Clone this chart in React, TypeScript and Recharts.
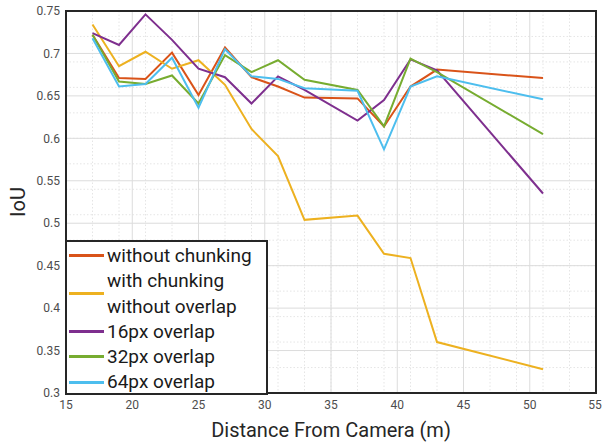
import React from 'react';
import { LineChart, Line, XAxis, YAxis, CartesianGrid, Legend } from 'recharts';

const distances = [17, 19, 21, 23, 25, 27, 29, 31, 33, 37, 39, 41, 43, 51];
const withoutChunking = [0.722, 0.671, 0.670, 0.701, 0.651, 0.707, 0.672, 0.661, 0.648, 0.647, 0.614, 0.661, 0.681, 0.671];
const chunkNoOverlap = [0.734, 0.685, 0.702, 0.682, 0.692, 0.663, 0.611, 0.579, 0.504, 0.509, 0.464, 0.459, 0.360, 0.328];
const overlap16 = [0.724, 0.710, 0.746, 0.716, 0.682, 0.672, 0.641, 0.673, 0.657, 0.621, 0.645, 0.693, 0.680, 0.535];
const overlap32 = [0.722, 0.667, 0.664, 0.674, 0.641, 0.698, 0.678, 0.692, 0.669, 0.657, 0.614, 0.694, 0.678, 0.605];
const overlap64 = [0.718, 0.661, 0.664, 0.695, 0.636, 0.705, 0.673, 0.670, 0.659, 0.656, 0.587, 0.661, 0.673, 0.646];

const xTicks = [15, 20, 25, 30, 35, 40, 45, 50, 55];
const yTicks = [0.3, 0.35, 0.4, 0.45, 0.5, 0.55, 0.6, 0.65, 0.7, 0.75];
const xDomain = [15, 55];
const yDomain = [0.3, 0.75];

const seriesDefs = [
  { key: 's1', label: ['without chunking'], color: '#D95319', values: withoutChunking },
  { key: 's2', label: ['with chunking', 'without overlap'], color: '#EDB120', values: chunkNoOverlap },
  { key: 's3', label: ['16px overlap'], color: '#7E2F8E', values: overlap16 },
  { key: 's4', label: ['32px overlap'], color: '#77AC30', values: overlap32 },
  { key: 's5', label: ['64px overlap'], color: '#4DBEEE', values: overlap64 },
];

const data = distances.map((dist, i) => {
  const row: any = { dist };
  seriesDefs.forEach((s) => (row[s.key] = s.values[i]));
  return row;
});

const minorX: number[] = [];
for (let v = 15; v <= 55; v += 1) minorX.push(v);
const minorY: number[] = [];
for (let i = 30; i <= 75; i += 1) minorY.push(i / 100);

const FONT = 'Roboto, "DejaVu Sans", sans-serif';
const AX = '#262626';
const fmtY = (v: number) => String(Number(Number(v).toFixed(2)));

const BottomTick = (p: any) => (
  <text x={p.x} y={p.y} dy="0.71em" textAnchor="middle" fontSize={12} fontFamily={FONT} fill="#4d4d4d">
    {p.payload.value}
  </text>
);
const LeftTick = (p: any) => (
  <text x={p.x} y={p.y} dy="0.355em" textAnchor="end" fontSize={12} fontFamily={FONT} fill="#4d4d4d">
    {fmtY(p.payload.value)}
  </text>
);

const LegendBox = () => (
  <div
    style={{
      position: 'absolute',
      left: 65,
      top: 240,
      width: 199,
      height: 151,
      border: `2px solid ${AX}`,
      background: '#fff',
      fontFamily: FONT,
      fontSize: 19,
      color: '#1a1a1a',
      boxSizing: 'content-box',
      zIndex: 2,
    }}
  >
    <div style={{ height: 1 }} />
    {seriesDefs.map((s) => (
      <div key={s.key} style={{ position: 'relative', height: 25.3 * s.label.length, lineHeight: '25.3px' }}>
        <div
          style={{
            position: 'absolute',
            left: 2,
            top: (25.3 * s.label.length) / 2 - 1.5,
            width: 35,
            height: 3,
            background: s.color,
          }}
        />
        <div style={{ position: 'absolute', left: 40, top: 0, whiteSpace: 'nowrap' }}>
          {s.label.map((t) => (
            <div key={t}>{t}</div>
          ))}
        </div>
      </div>
    ))}
  </div>
);

export default function App() {
  return (
    <div style={{ position: 'absolute', left: 0, top: 0, width: 603, height: 443, background: '#fff' }}>
      <LineChart width={603} height={443} data={data} margin={{ top: 10, right: 6, bottom: 0, left: 0 }}>
        <CartesianGrid
          verticalValues={minorX}
          horizontalValues={minorY}
          stroke="#dedede"
          strokeDasharray="1.5 2"
          strokeWidth={0.8}
        />
        <CartesianGrid verticalValues={xTicks} horizontalValues={yTicks} stroke="#dcdcdc" strokeWidth={1} />
        <XAxis
          dataKey="dist"
          type="number"
          domain={xDomain}
          ticks={xTicks}
          allowDataOverflow
          height={50}
          tickSize={-5}
          tickMargin={12}
          axisLine={false}
          tickLine={false}
          tick={BottomTick}
          label={{
            content: (props: any) => {
              const vb = props.viewBox || { x: 66, y: 393, width: 530 };
              return (
                <text
                  x={vb.x + vb.width / 2}
                  y={vb.y + 43.5}
                  textAnchor="middle"
                  fontSize={20}
                  fontFamily={FONT}
                  fill={AX}
                >
                  Distance From Camera (m)
                </text>
              );
            },
          }}
        />
        <XAxis
          xAxisId="top"
          orientation="top"
          dataKey="dist"
          type="number"
          domain={xDomain}
          ticks={xTicks}
          height={1}
          tick={false}
          axisLine={false}
          tickLine={false}
        />
        <YAxis
          type="number"
          domain={yDomain}
          ticks={yTicks}
          allowDataOverflow
          width={66}
          tickSize={-5}
          tickMargin={11}
          axisLine={false}
          tickLine={false}
          tick={LeftTick}
          label={{
            content: (props: any) => {
              const vb = props.viewBox || { x: 0, y: 11, height: 382 };
              const cx = vb.x + 24.5;
              const cy = vb.y + vb.height / 2;
              return (
                <text
                  x={cx}
                  y={cy}
                  transform={`rotate(-90 ${cx} ${cy})`}
                  textAnchor="middle"
                  fontSize={20}
                  fontFamily={FONT}
                  fill={AX}
                >
                  IoU
                </text>
              );
            },
          }}
        />
        <YAxis
          yAxisId="right"
          orientation="right"
          type="number"
          domain={yDomain}
          ticks={yTicks}
          width={1}
          tick={false}
          axisLine={false}
          tickLine={false}
        />
        {seriesDefs.map((s) => (
          <Line
            key={s.key}
            dataKey={s.key}
            name={s.label.join(' ')}
            stroke={s.color}
            strokeWidth={2}
            dot={false}
            activeDot={false}
            isAnimationActive={false}
          />
        ))}
        <Legend content={() => <LegendBox />} wrapperStyle={{ position: 'absolute', left: 0, top: 0, width: 0, height: 0 }} />
      </LineChart>
      <div
        style={{
          position: 'absolute',
          left: 65,
          top: 10,
          width: 532,
          height: 384,
          border: `2px solid ${AX}`,
          boxSizing: 'border-box',
          pointerEvents: 'none',
          background: 'transparent',
          zIndex: 1,
        }}
      />
    </div>
  );
}
